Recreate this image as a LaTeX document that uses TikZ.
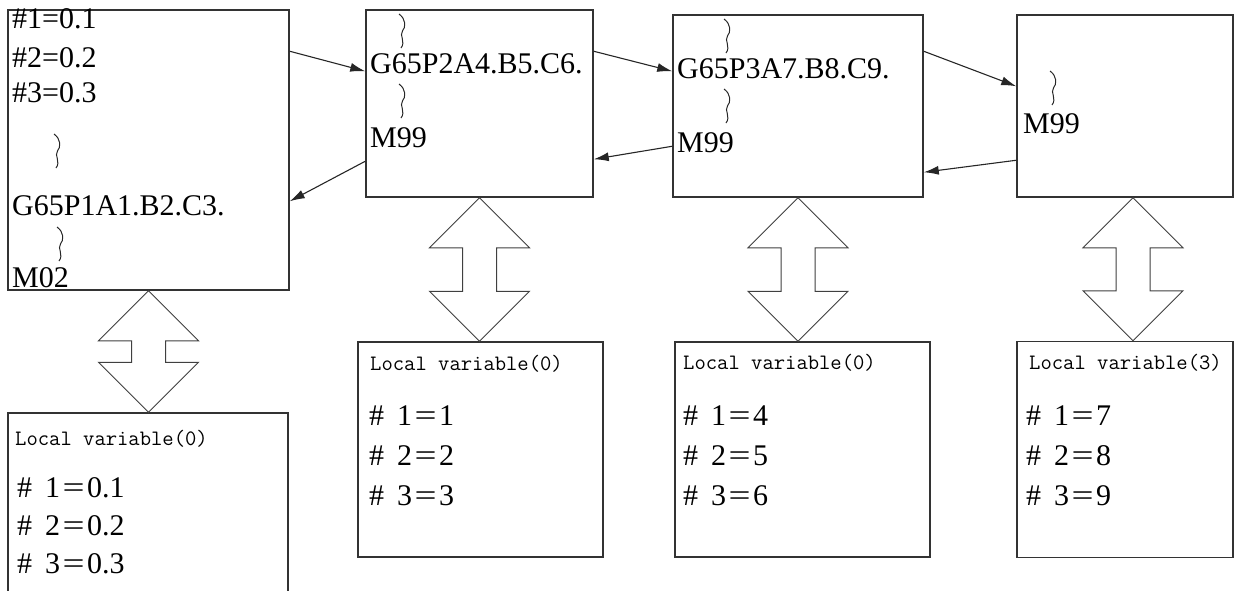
\documentclass[tikz,border=0pt]{standalone}
\usepackage{fontspec}
\setmainfont{Liberation Serif}
\usepackage{graphicx}
\usetikzlibrary{arrows.meta, calc}

% one local variable line, #n = value
\newcommand{\hashval}[2]{\makebox[0.93em][l]{\#}#1\makebox[0.9em]{\scalebox{1.3}[1]{=}}#2}
% hollow double arrow from a program box down to its variable box
\newcommand{\dblarrow}[3][0pt]{%
  \draw[hollow] let \p1=([xshift=#1]#2.south), \p2=(#3.north) in
    (\x1,\y1) -- ++(50,50) -- ++(-33,0) -- (\x1+17pt,\y2+50pt) -- ++(33,0)
    -- (\x1,\y2) -- ++(-50,-50) -- ++(33,0) -- (\x1-17pt,\y1-50pt) -- ++(-33,0) -- cycle;}

\begin{document}
\begin{tikzpicture}[
    x=1pt, y=-1pt,
    progbox/.style={rectangle, draw=black!80, line width=1.5pt, inner sep=0pt},
    codeline/.style={anchor=base west, inner sep=0pt, font=\fontsize{30}{36}\selectfont},
    vartitle/.style={anchor=base west, inner sep=0pt, font=\ttfamily\fontsize{22}{26}\selectfont},
    hollow/.style={draw=black!75, line width=1pt, fill=white},
    arr/.style={-{Latex[length=15pt,width=9pt]}, line width=1.1pt, black!85},
    % wavy "and so on" mark between program lines
    squiggle/.pic={\draw[line width=1pt, black!85] (-3,-17) .. controls (4,-12) and (4,-4) .. (0.5,0)
      .. controls (-3,4) and (4,11) .. (-1,17);},
  ]
  \useasboundingbox (0,0) rectangle (1235,590);
  \clip (0,0) rectangle (1235,590);

  % program boxes
  \node[progbox, minimum width=281pt, minimum height=280pt] (main) at (148.5,150) {};
  \node[progbox, minimum width=227pt, minimum height=187pt] (sub1) at (479.5,103.5) {};
  \node[progbox, minimum width=250pt, minimum height=182pt] (sub2) at (798,106) {};
  \node[progbox, minimum width=216pt, minimum height=182pt] (sub3) at (1125,106) {};

  % local variable boxes
  \node[progbox, minimum width=280pt, minimum height=190pt] (var0) at (148,508) {};
  \node[progbox, minimum width=245pt, minimum height=215pt] (var1) at (480.5,449.5) {};
  \node[progbox, minimum width=255pt, minimum height=215pt] (var2) at (802.5,449.5) {};
  \node[progbox, minimum width=216pt, minimum height=216pt] (var3) at (1125,449.5) {};

  % main program
  \node[codeline] (main-a) at (12,28) {\#1=0.1};
  \node[codeline] (main-b) at (12,67) {\#2=0.2};
  \node[codeline] (main-c) at (12,102) {\#3=0.3};
  \pic (main-w1) at (57,151) {squiggle};
  \node[codeline] (main-call) at (12,215) {G65P1A1.B2.C3.};
  \pic (main-w2) at (60,244) {squiggle};
  \node[codeline] (main-end) at (12,287) {M02};

  % macro P1
  \pic (sub1-w1) at (402,31) {squiggle};
  \node[codeline] (sub1-call) at (370,73) {G65P2A4.B5.C6.};
  \pic (sub1-w2) at (402,101) {squiggle};
  \node[codeline] (sub1-end) at (370,147) {M99};

  % macro P2
  \pic (sub2-w1) at (727,36) {squiggle};
  \node[codeline] (sub2-call) at (677,78) {G65P3A7.B8.C9.};
  \pic (sub2-w2) at (727,106) {squiggle};
  \node[codeline] (sub2-end) at (677,152) {M99};

  % macro P3
  \pic (sub3-w1) at (1053,88) {squiggle};
  \node[codeline] (sub3-end) at (1023,133) {M99};

  % local variables
  \node[vartitle] (var0-t) at (15,445) {Local variable(0)};
  \foreach \v [count=\i] in {0.1,0.2,0.3}
    \node[codeline] (var0-\i) at (17,459+38*\i) {\hashval{\i}{\v}};
  \node[vartitle] (var1-t) at (370,370) {Local variable(0)};
  \foreach \v [count=\i] in {1,2,3}
    \node[codeline] (var1-\i) at (369,385+40*\i) {\hashval{\i}{\v}};
  \node[vartitle] (var2-t) at (683,369) {Local variable(0)};
  \foreach \v [count=\i] in {4,5,6}
    \node[codeline] (var2-\i) at (683,385+40*\i) {\hashval{\i}{\v}};
  \node[vartitle] (var3-t) at (1029,369) {Local variable(3)};
  \foreach \v [count=\i] in {7,8,9}
    \node[codeline] (var3-\i) at (1026,385+40*\i) {\hashval{\i}{\v}};

  % calls and returns
  \draw[arr] ([yshift=-42pt]main.north east) -- ([yshift=-62pt]sub1.north west);
  \draw[arr] ([yshift=-152pt]sub1.north west) -- ([yshift=-192pt]main.north east);
  \draw[arr] ([yshift=-42pt]sub1.north east) -- ([yshift=-57pt]sub2.north west);
  \draw[arr] ([yshift=-132pt]sub2.north west) -- ([yshift=-150pt]sub1.north east);
  \draw[arr] ([yshift=-37pt]sub2.north east) -- ([yshift=-72pt]sub3.north west);
  \draw[arr] ([yshift=-146pt]sub3.north west) -- ([yshift=-158pt]sub2.north east);

  % program <-> local variables
  \dblarrow{main}{var0}
  \dblarrow{sub1}{var1}
  \dblarrow{sub2}{var2}
  \dblarrow[8pt]{sub3}{var3}
\end{tikzpicture}
\end{document}
